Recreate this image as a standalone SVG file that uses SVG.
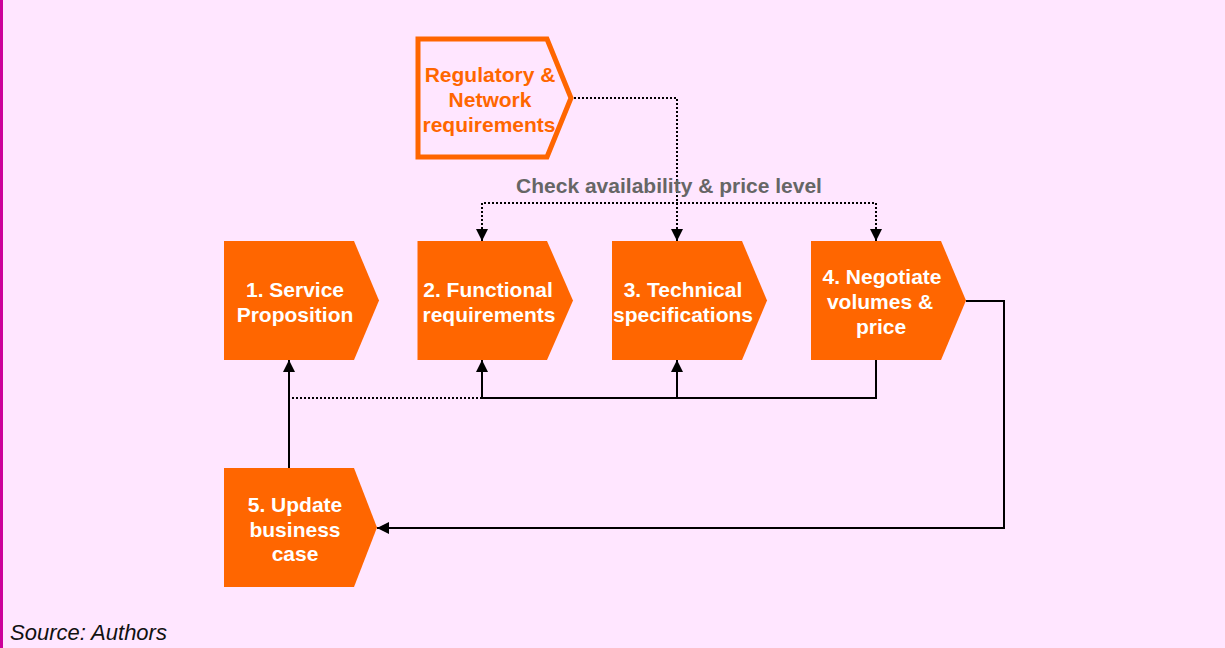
<svg xmlns="http://www.w3.org/2000/svg" width="1225" height="648" viewBox="0 0 1225 648">
<defs>
<style>
.node{fill:#ff6600}
.nt{font-family:"Liberation Sans",Arial,sans-serif;font-weight:bold;font-size:21px;fill:#ffffff;text-anchor:middle}
.rt{font-family:"Liberation Sans",Arial,sans-serif;font-weight:bold;font-size:21px;fill:#ff6600;text-anchor:middle}
.solid{fill:none;stroke:#000;stroke-width:2}
.dot{fill:none;stroke:#000;stroke-width:2;stroke-dasharray:2 2}
</style>
<marker id="arr" viewBox="0 0 12 12" refX="12" refY="6" markerWidth="13" markerHeight="12" markerUnits="userSpaceOnUse" orient="auto-start-reverse">
<path d="M0,0 L12,6 L0,12 Z" fill="#000"/>
</marker>
</defs>
<rect x="0" y="0" width="1225" height="648" fill="#ffe6ff"/>
<rect x="0" y="0" width="3" height="648" fill="#cc0099"/>

<g id="connectors">
<path class="dot" d="M574,98 H677 V241" marker-end="url(#arr)"/>
<path class="dot" d="M482,241 V203 H876 V241" marker-start="url(#arr)" marker-end="url(#arr)"/>
<path class="solid" d="M876,360 V398 H482 V360" marker-end="url(#arr)"/>
<path class="solid" d="M677,398 V360" marker-end="url(#arr)"/>
<path class="dot" d="M482,398 H289"/>
<path class="solid" d="M289,468 V360" marker-end="url(#arr)"/>
<path class="solid" d="M966,301 H1004 V528 H377" marker-end="url(#arr)"/>
</g>

<g id="regulatory">
<path d="M418,39 H547 L571,98 L547,157 H418 Z" fill="none" stroke="#ff6600" stroke-width="5"/>
<text class="rt" x="490" y="81.5">Regulatory &amp;</text>
<text class="rt" x="490" y="106.5">Network</text>
<text class="rt" x="489" y="131.5">requirements</text>
</g>

<g id="check-label">
<text x="669" y="192.5" font-family="Liberation Sans, Arial, sans-serif" font-weight="bold" font-size="21" fill="#666666" text-anchor="middle">Check availability &amp; price level</text>
</g>

<g id="node1">
<path class="node" d="M224,241 H354 L379,300.5 L354,360 H224 Z"/>
<text class="nt" x="295" y="297">1. Service</text>
<text class="nt" x="295" y="322">Proposition</text>
</g>
<g id="node2">
<path class="node" d="M417.5,241 H547 L573,300.5 L547,360 H417.5 Z"/>
<text class="nt" x="488" y="297">2. Functional</text>
<text class="nt" x="489" y="322">requirements</text>
</g>
<g id="node3">
<path class="node" d="M612,241 H742 L767,300.5 L742,360 H612 Z"/>
<text class="nt" x="683" y="297">3. Technical</text>
<text class="nt" x="683" y="322">specifications</text>
</g>
<g id="node4">
<path class="node" d="M811,241 H941 L966,300.5 L941,360 H811 Z"/>
<text class="nt" x="882" y="284">4. Negotiate</text>
<text class="nt" x="880" y="309">volumes &amp;</text>
<text class="nt" x="881" y="334">price</text>
</g>
<g id="node5">
<path class="node" d="M224,468 H354 L377,527.5 L354,587 H224 Z"/>
<text class="nt" x="295" y="512">5. Update</text>
<text class="nt" x="295" y="537">business</text>
<text class="nt" x="295" y="561">case</text>
</g>

<text x="10" y="640" font-family="Liberation Sans, Arial, sans-serif" font-style="italic" font-size="22" fill="#111111">Source: Authors</text>
</svg>
